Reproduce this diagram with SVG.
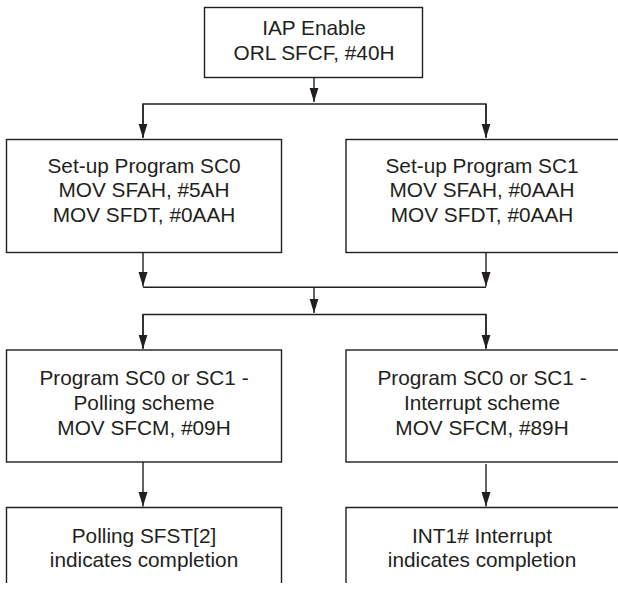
<svg xmlns="http://www.w3.org/2000/svg" width="618" height="592" viewBox="0 0 618 592">
<style>
.box{fill:#fff;stroke:#231f20;stroke-width:1.4}
.ln{fill:none;stroke:#231f20;stroke-width:1.4}
text{font-family:"Liberation Sans",Arial,sans-serif;font-size:20.8px;fill:#231f20;text-anchor:middle}
</style>
<defs>
<marker id="ah" markerUnits="userSpaceOnUse" markerWidth="15" markerHeight="10" viewBox="0 0 15 10" refX="14.5" refY="5" orient="auto">
<path d="M0,0.5 L14.5,5 L0,9.5 Z" fill="#231f20"/>
</marker>
</defs>
<rect width="618" height="592" fill="#fff"/>
<g id="connectors">
<line class="ln" x1="314" y1="77" x2="314" y2="102" marker-end="url(#ah)"/>
<path class="ln" d="M143,137 V104 H486 V137"/>
<line class="ln" x1="143" y1="104" x2="143" y2="138" marker-end="url(#ah)"/>
<line class="ln" x1="486" y1="104" x2="486" y2="138" marker-end="url(#ah)"/>
<line class="ln" x1="143" y1="253" x2="143" y2="286.5" marker-end="url(#ah)"/>
<line class="ln" x1="486" y1="253" x2="486" y2="286.5" marker-end="url(#ah)"/>
<line class="ln" x1="143" y1="287.3" x2="486" y2="287.3"/>
<line class="ln" x1="314" y1="287.3" x2="314" y2="313" marker-end="url(#ah)"/>
<path class="ln" d="M143,348 V314.5 H486 V348"/>
<line class="ln" x1="143" y1="314.5" x2="143" y2="349" marker-end="url(#ah)"/>
<line class="ln" x1="486" y1="314.5" x2="486" y2="349" marker-end="url(#ah)"/>
<line class="ln" x1="143" y1="462" x2="143" y2="506.5" marker-end="url(#ah)"/>
<line class="ln" x1="486" y1="464" x2="486" y2="506.5" marker-end="url(#ah)"/>
</g>
<g id="n-iap">
<rect class="box" x="204.5" y="7.5" width="218" height="70"/>
<text x="314" y="34.5">IAP Enable</text>
<text x="314" y="60">ORL SFCF, #40H</text>
</g>
<g id="n-sc0">
<rect class="box" x="6.5" y="139.5" width="275" height="113"/>
<text x="144" y="172.7">Set-up Program SC0</text>
<text x="144" y="197.2">MOV SFAH, #5AH</text>
<text x="144" y="221.7">MOV SFDT, #0AAH</text>
</g>
<g id="n-sc1">
<rect class="box" x="346" y="139.5" width="274" height="113"/>
<text x="482" y="172.7">Set-up Program SC1</text>
<text x="482" y="197.2">MOV SFAH, #0AAH</text>
<text x="482" y="221.7">MOV SFDT, #0AAH</text>
</g>
<g id="n-poll">
<rect class="box" x="6.5" y="350" width="275" height="112"/>
<text x="144" y="384.5">Program SC0 or SC1 -</text>
<text x="144" y="410">Polling scheme</text>
<text x="144" y="435">MOV SFCM, #09H</text>
</g>
<g id="n-int">
<rect class="box" x="346" y="350" width="274" height="112"/>
<text x="482" y="384.5">Program SC0 or SC1 -</text>
<text x="482" y="410">Interrupt scheme</text>
<text x="482" y="435">MOV SFCM, #89H</text>
</g>
<g id="n-pollsfst">
<path class="ln" d="M6.5,583 V507.5 H281.5 V583"/>
<text x="144" y="542.5">Polling SFST[2]</text>
<text x="144" y="566.5">indicates completion</text>
</g>
<g id="n-int1">
<path class="ln" d="M346,583 V507.5 H620"/>
<text x="482" y="542.5">INT1# Interrupt</text>
<text x="482" y="566.5">indicates completion</text>
</g>
</svg>
